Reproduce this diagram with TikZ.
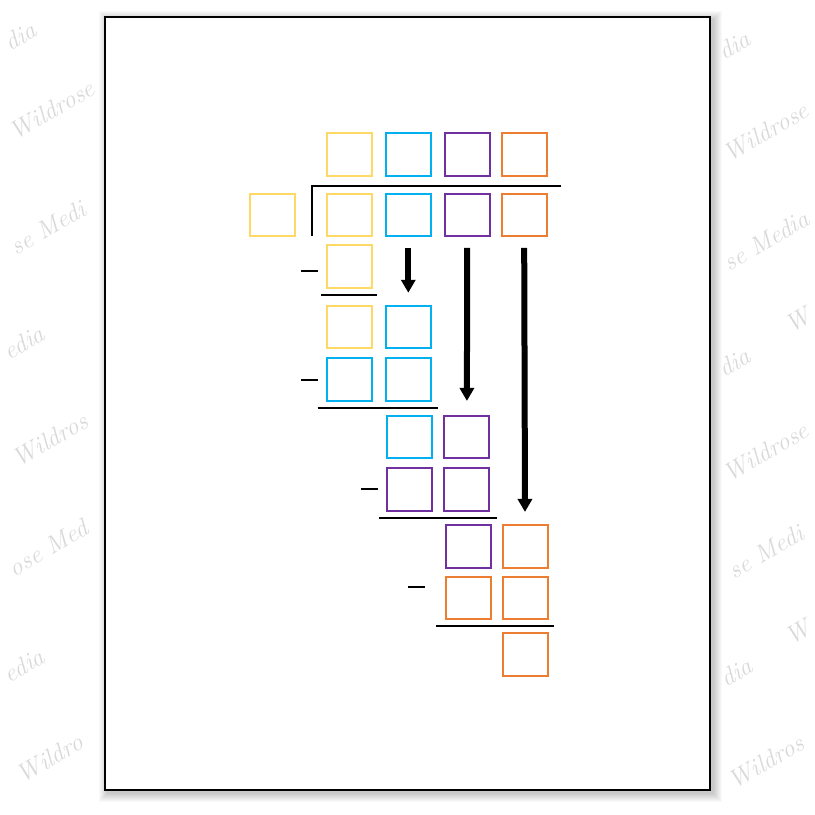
\documentclass[tikz,border=0pt]{standalone}
\usetikzlibrary{arrows.meta}
\definecolor{cy}{HTML}{FFD966}
\definecolor{cb}{HTML}{00B0F0}
\definecolor{cp}{HTML}{7030A0}
\definecolor{co}{HTML}{ED7D31}
\definecolor{wm}{HTML}{D9D9D9}
\begin{document}
\begin{tikzpicture}[x=1pt,y=-1pt,
  box/.style={draw,line width=2pt,minimum width=45pt,minimum height=42.5pt,inner sep=0pt},
  rule/.style={line width=2pt},
  arr/.style={line width=6pt,-{Triangle[width=14pt,length=13pt]}},
  wmark/.style={text=wm,rotate=30,inner sep=0pt,font=\fontsize{25}{25}\selectfont\itshape}]
\useasboundingbox (0,0) rectangle (815,815);
\fill[white] (0,0) rectangle (815,815);
% watermark fragments in the margins
\node[wmark] (wl1) at (20,36) {dia};
\node[wmark] (wl2) at (52,110) {Wildrose};
\node[wmark] (wl3) at (48,228) {se Medi};
\node[wmark] (wl4) at (24,342) {edia};
\node[wmark] (wl5) at (50,440) {Wildros};
\node[wmark] (wl6) at (48,548) {ose Med};
\node[wmark] (wl7) at (24,665) {edia};
\node[wmark] (wl8) at (50,758) {Wildro};
\node[wmark] (wr1) at (734,45) {dia};
\node[wmark] (wr2) at (766,132) {Wildrose};
\node[wmark] (wr3) at (766,240) {se Media};
\node[wmark] (wr4) at (798,320) {W};
\node[wmark] (wr5) at (734,362) {dia};
\node[wmark] (wr6) at (766,452) {Wildrose};
\node[wmark] (wr7) at (766,552) {se Medi};
\node[wmark] (wr8) at (798,632) {W};
\node[wmark] (wr9) at (736,672) {dia};
\node[wmark] (wr10) at (766,762) {Wildros};
% page shadow
\foreach \k in {1,...,9}{
  \fill[black,opacity=0.022] ({105-\k+3},{17-\k+3}) rectangle ({710+\k+3},{790+\k+3});
}
\draw[fill=white,line width=1.3pt] (105,17) rectangle (710,790);
% quotient row
\node[box,draw=cy] (q1) at (349.2,154.5) {};
\node[box,draw=cb] (q2) at (408.3,154.5) {};
\node[box,draw=cp] (q3) at (467.2,154.5) {};
\node[box,draw=co] (q4) at (524.2,154.5) {};
% divisor and dividend
\node[box,draw=cy] (dv) at (272.3,215) {};
\node[box,draw=cy] (d1) at (349.2,215) {};
\node[box,draw=cb] (d2) at (408.3,215) {};
\node[box,draw=cp] (d3) at (467.2,215) {};
\node[box,draw=co] (d4) at (524.2,215) {};
% bracket
\draw[rule] (311.7,235.7) -- (311.7,185.7) -- (561,185.7);
% step 1
\node[box,draw=cy] (s1) at (349.2,266.3) {};
\draw[rule] (301,271) -- (317.7,271);
\draw[rule] (321,295) -- (377.3,295);
% step 2
\node[box,draw=cy] (r4a) at (349.2,327) {};
\node[box,draw=cb] (r4b) at (408.3,327) {};
\node[box,draw=cb] (r5a) at (349.2,379.7) {};
\node[box,draw=cb] (r5b) at (408.3,379.7) {};
\draw[rule] (300.7,380.3) -- (317.7,380.3);
\draw[rule] (317.7,408) -- (438,408);
% step 3
\node[box,draw=cb] (r6b) at (409.8,437.2) {};
\node[box,draw=cp] (r6p) at (466.9,437.2) {};
\node[box,draw=cp] (r7b) at (409.8,489.5) {};
\node[box,draw=cp] (r7p) at (466.9,489.5) {};
\draw[rule] (361,489.3) -- (378.3,489.3);
\draw[rule] (379.3,518.3) -- (497.3,518.3);
% step 4
\node[box,draw=cp] (r8p) at (468,546.7) {};
\node[box,draw=co] (r8o) at (525,546.7) {};
\node[box,draw=co] (r9p) at (468,597.9) {};
\node[box,draw=co] (r9o) at (525,597.9) {};
\draw[rule] (408.3,587) -- (425.3,587);
\draw[rule] (435.7,626.3) -- (553.7,626.3);
\node[box,draw=co] (rem) at (525,654.7) {};
% arrows
\draw[arr] ([yshift=-10.7pt]d2.south) -- ([yshift=12pt]r4b.north);
\draw[arr] ([yshift=-10.7pt]d3.south) -- ([yshift=14pt]r6p.north);
\draw[arr] ([yshift=-10.7pt]d4.south) -- ([yshift=12.5pt]r8o.north);
\end{tikzpicture}
\end{document}
